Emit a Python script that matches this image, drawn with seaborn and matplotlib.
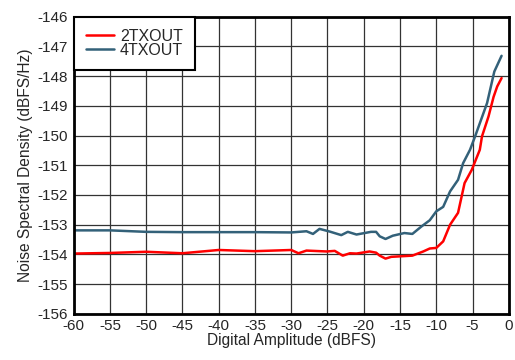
import matplotlib
matplotlib.use("Agg")
import matplotlib.pyplot as plt
import seaborn as sns
import pandas as pd

# values
amp_2tx = [-60, -55, -50, -45, -40, -35, -30, -29, -27.9, -25.1, -24, -22.9, -21.9, -21,
           -19.2, -18.3, -17.8, -17, -16.2, -13.3, -11.8, -10.9, -10, -9.05, -8.1, -7,
           -6.1, -5.1, -4, -3.7, -2.8, -2.1, -1.6, -1]
nsd_2tx = [-153.97, -153.95, -153.91, -153.96, -153.85, -153.89, -153.85, -153.96, -153.87,
           -153.9, -153.88, -154.04, -153.96, -153.97, -153.9, -153.94, -154.04, -154.14,
           -154.08, -154.04, -153.9, -153.8, -153.78, -153.56, -153.0, -152.6, -151.6,
           -151.15, -150.48, -150.03, -149.36, -148.7, -148.35, -148.07]

amp_4tx = [-60, -55, -50, -45, -40, -35, -30, -27.9, -27, -26.1, -24.7, -23.1, -22.2, -21,
           -19, -18.3, -17.8, -17, -16, -14.4, -13.3, -12.05, -10.9, -10, -9.05, -8.1, -7,
           -6.3, -5.35, -4.65, -3, -2, -1]
nsd_4tx = [-153.19, -153.19, -153.24, -153.25, -153.25, -153.25, -153.26, -153.22, -153.31,
           -153.14, -153.23, -153.35, -153.24, -153.33, -153.24, -153.24, -153.39, -153.48,
           -153.37, -153.28, -153.31, -153.06, -152.85, -152.55, -152.4, -151.88, -151.49,
           -150.93, -150.48, -150.03, -148.91, -147.85, -147.32]

series = ["2TXOUT", "4TXOUT"]
colors = ["#ff0000", "#336179"]

df = pd.concat([
    pd.DataFrame({"amp": amp_2tx, "nsd": nsd_2tx, "series": series[0]}),
    pd.DataFrame({"amp": amp_4tx, "nsd": nsd_4tx, "series": series[1]}),
])

sns.set_style("white")
plt.rcParams["font.family"] = ["Liberation Sans", "DejaVu Sans"]
plt.rcParams["axes.unicode_minus"] = False

fig = plt.figure(figsize=(5.15, 3.6), dpi=100)
ax = fig.add_axes([0.143, 0.128, 0.845, 0.826])

sns.lineplot(data=df, x="amp", y="nsd", hue="series", palette=colors,
             linewidth=1.8, ax=ax, sort=False, estimator=None)

ax.set_xlim(-60, 0)
ax.set_ylim(-156, -146)
ax.set_xticks(range(-60, 1, 5))
ax.set_yticks(range(-156, -145, 1))
ax.grid(True, color="#333333", linewidth=0.9)
ax.set_axisbelow(True)
for s in ax.spines.values():
    s.set_color("black")
    s.set_linewidth(2)
ax.tick_params(labelsize=11, length=0, pad=4)
ax.set_xlabel("Digital Amplitude (dBFS)", fontsize=11.2, labelpad=0)
ax.set_ylabel("Noise Spectral Density (dBFS/Hz)", fontsize=11.2, labelpad=3)

leg = ax.legend(loc="upper left", fontsize=11.5, frameon=True, fancybox=False,
                borderaxespad=0, handlelength=1.75, handletextpad=0.4,
                borderpad=0.75, labelspacing=-0.05)
leg.get_frame().set_edgecolor("black")
leg.get_frame().set_linewidth(1.5)
leg.get_frame().set_alpha(1)

plt.savefig("out.png", dpi=100)
plt.close()
